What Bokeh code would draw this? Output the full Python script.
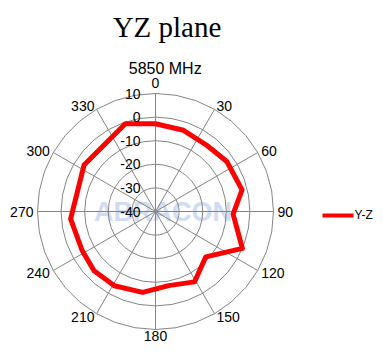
import math
from bokeh.plotting import figure
from bokeh.models import Range1d
from bokeh.core.properties import value
from bokeh.embed import file_html
from bokeh.resources import INLINE

# ---- data ----
angles_deg = [0, 19, 38, 55, 76, 92, 113, 132, 151, 170, 189, 209, 226, 242, 265, 303, 341]
gain_db = [-2.8, -3.6, -4.5, -3.1, -2.2, -7.1, 0.0, -11.3, -5.9, -8.1, -5.3, -4.0, -3.8, -4.8, -3.9, -3.9, -0.7]
ring_values = [10, 0, -10, -20, -30, -40]
ring_labels = ["10", "0", "-10", "-20", "-30", "-40"]
spoke_angles = [0, 30, 60, 90, 120, 150, 180, 210, 240, 270, 300, 330]
spoke_labels = ["0", "30", "60", "90", "120", "150", "180", "210", "240", "270", "300", "330"]
series_name = "Y-Z"
title_text = "YZ plane"
subtitle_text = "5850 MHz"

R_MIN, R_MAX = -40, 10
N_RING_SIDES = 36

# ---- layout ----
W, H = 375, 342
S = 2.36             # px per dB
CX_REF, CY_REF = 155, 216   # centre in reference picture
CXF, CYF = 155, 211         # centre in figure px

def px(xr):
    return (xr - CX_REF) / S

def py(yr):
    return (CY_REF - yr) / S

p = figure(width=W, height=H, output_backend="svg", toolbar_location=None,
           x_range=Range1d(-CXF / S, (W - CXF) / S),
           y_range=Range1d(-(H - CYF) / S, CYF / S),
           x_axis_location=None, y_axis_location=None, min_border=0)
p.grid.visible = False
p.outline_line_color = None
p.background_fill_color = "white"
p.border_fill_color = "white"

# faint watermark
p.text(x=[px(162.5)], y=[py(216)], text=["ABRACON"], text_font=value("Liberation Sans"),
       text_font_style="bold", text_font_size=value("27px"), text_color="#cfdcf2",
       text_align="center", text_baseline="middle")

def pol(r_db, ang):
    r = r_db - R_MIN
    t = math.radians(ang)
    return r * math.sin(t), r * math.cos(t)

grid_col = "#858585"
# rings
for v in ring_values:
    if v == R_MIN:
        continue
    xs, ys = [], []
    for k in range(N_RING_SIDES + 1):
        a = 360.0 * k / N_RING_SIDES
        x, y = pol(v, a)
        xs.append(x); ys.append(y)
    p.line(xs, ys, line_color=grid_col, line_width=1)

# spokes
for a in spoke_angles:
    x, y = pol(R_MAX, a)
    p.line([0, x], [0, y], line_color=grid_col, line_width=1)

# data
xs, ys = [], []
for a, g in zip(angles_deg + angles_deg[:1], gain_db + gain_db[:1]):
    x, y = pol(g, a)
    xs.append(x); ys.append(y)
p.line(xs, ys, line_color="#ff0000", line_width=5, line_join="round")

# radial labels
p.text(x=[px(140)] * len(ring_values), y=[v - R_MIN for v in ring_values], text=ring_labels,
       text_font=value("Liberation Sans"), text_font_size=value("14px"),
       text_align="right", text_baseline="middle", text_color="#000000")

# angle labels
lx, ly = [], []
for a, lab in zip(spoke_angles, spoke_labels):
    t = math.radians(a)
    s, c = math.sin(t), math.cos(t)
    w = 7.8 * len(lab)
    h = 10
    if c > 0.9:
        gap = 6
    elif c < -0.9:
        gap = 1
    else:
        gap = 4
    r_px = (R_MAX - R_MIN) * S + gap
    xp = r_px * s
    yp = r_px * c
    if s > 0.3:
        xp += w / 2
    elif s < -0.3:
        xp -= w / 2
    if c > 0.9:
        yp += h / 2
    elif c < -0.9:
        yp -= h / 2
    lx.append(xp / S); ly.append(yp / S)
p.text(x=lx, y=ly, text=spoke_labels, text_font=value("Liberation Sans"),
       text_font_size=value("14px"), text_align="center", text_baseline="middle",
       text_color="#000000")

# titles
p.text(x=[px(166.5)], y=[py(31)], text=[title_text], text_font=value("Liberation Serif"),
       text_font_size=value("29px"), text_align="center", text_baseline="alphabetic",
       text_color="#000000")
p.text(x=[px(164.7)], y=[py(73.3)], text=[subtitle_text], text_font=value("Liberation Sans"),
       text_font_size=value("16px"), text_align="center", text_baseline="alphabetic",
       text_color="#000000")

# legend
p.line([px(322), px(353)], [py(220), py(220)], line_color="#ff0000", line_width=4)
p.text(x=[px(354)], y=[py(219.5)], text=[series_name], text_font=value("Liberation Sans"),
       text_font_size=value("12px"), text_align="left", text_baseline="middle",
       text_color="#000000")

open("out.html", "w").write(file_html(p, INLINE))
